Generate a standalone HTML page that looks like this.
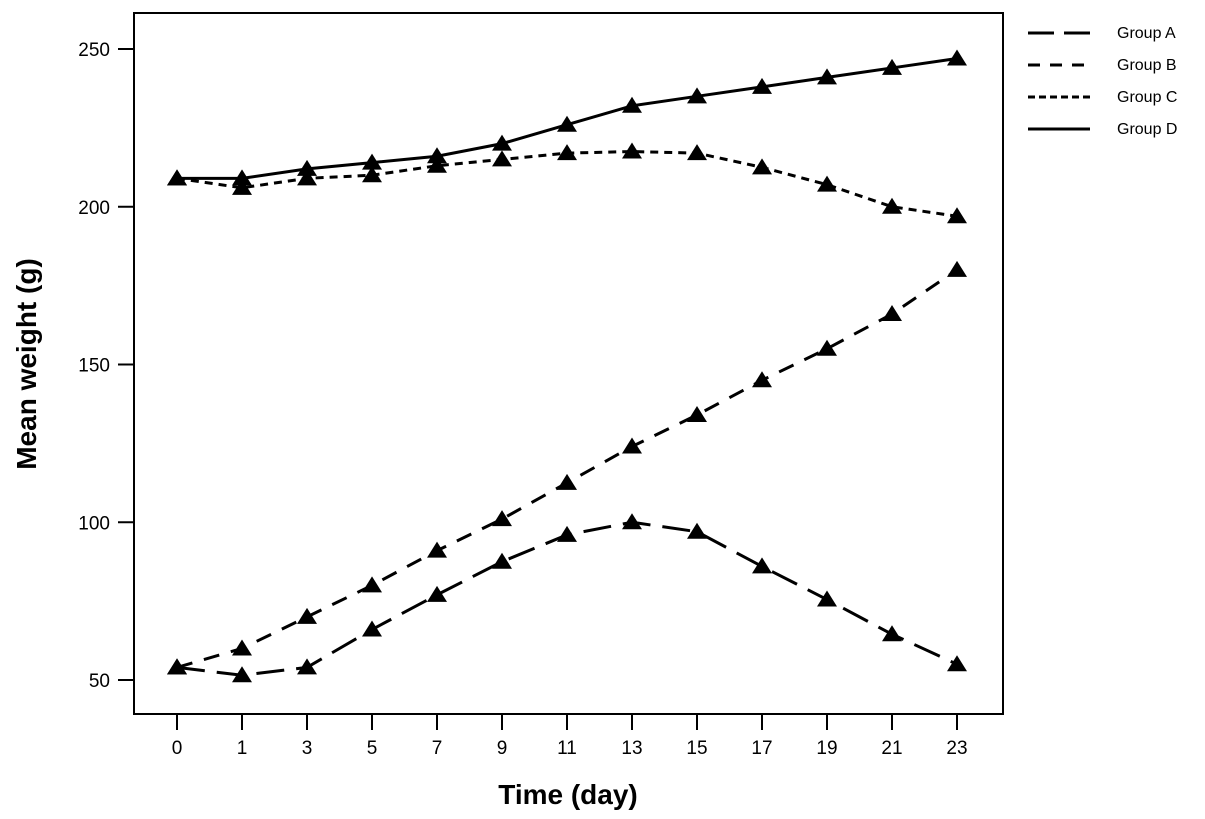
<!DOCTYPE html>
<html><head><meta charset="utf-8"><style>
body{margin:0;background:#fff;}
svg{display:block;font-family:"Liberation Sans",Arial,sans-serif;}
</style></head><body>
<svg id="chart" width="1205" height="819" viewBox="0 0 1205 819">
<rect x="134" y="13" width="869" height="701" fill="none" stroke="#000" stroke-width="2"/>
<g id="axes"></g>
<g id="series"></g>
<text x="36" y="364" font-size="28" font-weight="bold" text-anchor="middle" transform="rotate(-90 36 364)">Mean weight (g)</text>
<text x="568" y="804" font-size="28" font-weight="bold" text-anchor="middle">Time (day)</text>
<g id="legend"></g>
</svg>
<script>
const categories=["0","1","3","5","7","9","11","13","15","17","19","21","23"];
const yTicks=[50,100,150,200,250];
const groupA=[54,51.5,54,66,77,87.5,96,100,97,86,75.5,64.5,55];
const groupB=[54,60,70,80,91,101,112.5,124,134,145,155,166,180];
const groupC=[209,206,209,210,213,215,217,217.5,217,212.5,207,200,197];
const groupD=[209,209,212,214,216,220,226,232,235,238,241,244,247];
const seriesNames=["Group A","Group B","Group C","Group D"];
const NS="http://www.w3.org/2000/svg";
function xs(i){return 177+i*65;}
function ys(v){return 680-(v-50)*(631/200);}
function mk(tag,attrs,parent){const e=document.createElementNS(NS,tag);for(const k in attrs)e.setAttribute(k,attrs[k]);parent.appendChild(e);return e;}
const axes=document.getElementById('axes');
yTicks.forEach(v=>{
  const t=mk('line',{x1:118,x2:134,y1:ys(v),y2:ys(v),stroke:'#000','stroke-width':2},axes);
  
  
  const l=mk('text',{x:110,y:ys(v)+7,'font-size':19,'text-anchor':'end'},axes);
  l.textContent=v;
  
  
});
categories.forEach((c,i)=>{
  const t=mk('line',{x1:xs(i),x2:xs(i),y1:714,y2:730,stroke:'#000','stroke-width':2},axes);
  
  
  const l=mk('text',{x:xs(i),y:754,'font-size':19,'text-anchor':'middle'},axes);
  l.textContent=c;
  
  
});
const dashes=["28 12","16 12","8 6","none"];
const data=[groupA,groupB,groupC,groupD];
const sg=document.getElementById('series');
data.forEach((arr,s)=>{
  const g=mk('g',{},sg);
  
  
  const p=mk('polyline',{points:arr.map((v,i)=>xs(i)+','+ys(v)).join(' '),fill:'none',stroke:'#000','stroke-width':3,'stroke-dasharray':dashes[s]},g);
  
  
  arr.forEach((v,i)=>{
    const x=xs(i),y=ys(v);
    const m=mk('polygon',{points:`${x},${y-9} ${x-10},${y+7} ${x+10},${y+7}`,fill:'#000'},g);
    
    
  });
});
const lg=document.getElementById('legend');
const ldash=["26 10","12 10","7 4","none"];
seriesNames.forEach((n,i)=>{
  const y=33+i*32;
  const l=mk('line',{x1:1028,x2:1090,y1:y,y2:y,stroke:'#000','stroke-width':3,'stroke-dasharray':ldash[i]},lg);
  
  
  const t=mk('text',{x:1117,y:y+5,'font-size':16},lg);
  t.textContent=n;
  
  
});
</script>
</body></html>
